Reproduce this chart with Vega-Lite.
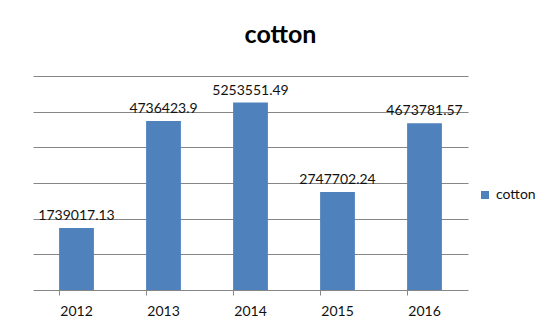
{
  "$schema": "https://vega.github.io/schema/vega-lite/v6.json",
  "width": 435,
  "height": 214,
  "autosize": {"type": "none"},
  "padding": {"left": 33, "top": 76, "right": 81, "bottom": 42},
  "background": "white",
  "title": {
    "text": "cotton",
    "font": "Lato",
    "fontSize": 25,
    "fontWeight": "bold",
    "color": "#000000",
    "anchor": "middle",
    "baseline": "alphabetic",
    "offset": 8,
    "dx": 30
  },
  "data": {
    "values": [
      {"year": "2012", "value": 1739017.13, "series": "cotton"},
      {"year": "2013", "value": 4736423.9, "series": "cotton"},
      {"year": "2014", "value": 5253551.49, "series": "cotton"},
      {"year": "2015", "value": 2747702.24, "series": "cotton"},
      {"year": "2016", "value": 4673781.57, "series": "cotton"}
    ]
  },
  "encoding": {
    "x": {
      "field": "year",
      "type": "nominal",
      "scale": {"paddingInner": 0.6, "paddingOuter": 0.3},
      "axis": {
        "title": null,
        "labelAngle": 0,
        "labelFont": "Lato",
        "labelFontSize": 14,
        "labelColor": "#111111",
        "labelPadding": 9,
        "bandPosition": 0,
        "tickSize": 5,
        "tickColor": "#868686",
        "domainColor": "#868686",
        "grid": false
      }
    },
    "y": {
      "field": "value",
      "type": "quantitative",
      "scale": {"domain": [0, 6000000], "nice": false},
      "axis": {
        "title": null,
        "labels": false,
        "ticks": false,
        "domain": false,
        "grid": true,
        "gridColor": "#868686",
        "values": [1000000, 2000000, 3000000, 4000000, 5000000, 6000000]
      }
    }
  },
  "layer": [
    {
      "mark": {"type": "bar", "color": "#4F81BD"},
      "encoding": {
        "color": {
          "field": "series",
          "type": "nominal",
          "scale": {"range": ["#4F81BD"]},
          "legend": {
            "title": null,
            "orient": "none",
            "legendX": 445,
            "legendY": 112,
            "symbolType": "square",
            "symbolSize": 64,
            "symbolStrokeWidth": 0,
            "labelFont": "Lato",
            "labelFontSize": 14,
            "labelColor": "#111111",
            "labelOffset": 4
          }
        }
      }
    },
    {
      "mark": {
        "type": "text",
        "baseline": "bottom",
        "dy": -5,
        "font": "Lato",
        "fontSize": 14,
        "color": "#111111"
      },
      "encoding": {
        "text": {"field": "value", "type": "quantitative", "format": ".2~f"}
      }
    }
  ],
  "config": {
    "view": {"stroke": null}
  }
}
